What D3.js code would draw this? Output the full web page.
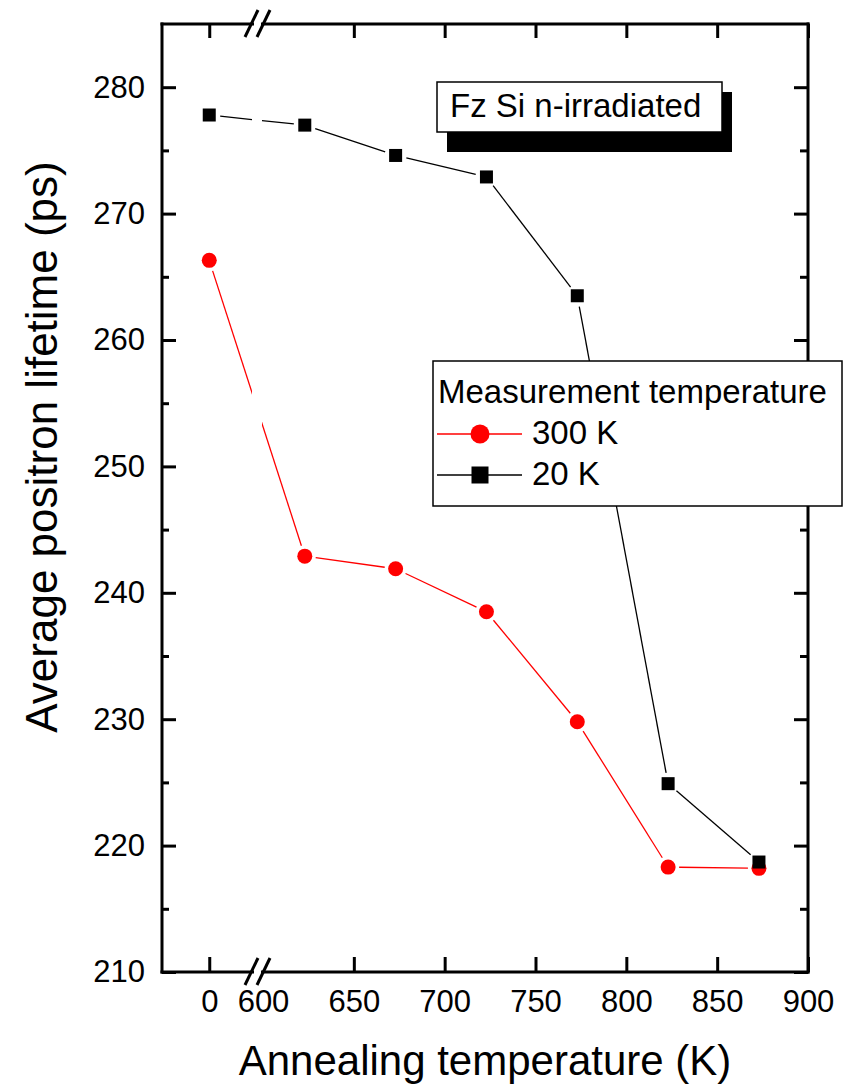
<!DOCTYPE html>
<html>
<head>
<meta charset="utf-8">
<script src="https://cdn.jsdelivr.net/npm/d3@7"></script>
<style>
  body { margin: 0; background: #fff; }
  svg { display: block; font-family: "Liberation Sans", Arial, sans-serif; }
  .axis text { font-size: 31px; fill: #000; }
  .axis line { stroke: #000; stroke-width: 3; }
</style>
</head>
<body>
<svg width="867" height="1087"></svg>
<script>
// Annealing temperatures (K); 0 = as-irradiated, shown left of the axis break
const annealTemps = [0, 623, 673, 723, 773, 823, 873];

// Average positron lifetime (ps)
const tau300K = [266.3, 242.9, 241.9, 238.5, 229.8, 218.3, 218.2];
const tau20K = [277.8, 277.0, 274.6, 272.9, 263.5, 224.9, 218.7];

// Tick values
const xTicksRight = [600, 650, 700, 750, 800, 850, 900];
const xTicksLeft = [0];
const yTicksMajor = [210, 220, 230, 240, 250, 260, 270, 280];
const yTicksMinor = [215, 225, 235, 245, 255, 265, 275, 285];

const width = 867;
const height = 1087;

const plot = { left: 162, right: 808, top: 24, bottom: 972 };
const breakGap = [252, 262];

const svg = d3.select("svg");

// Broken x scale: small left segment for 0, linear segment 600-900
const xLeft = d3.scaleLinear()
    .domain([-26, 26])
    .range([plot.left, 256.5]);

const xRight = d3.scaleLinear()
    .domain([600, 900])
    .range([263, plot.right]);

const x = v => v < 300 ? xLeft(v) : xRight(v);

const y = d3.scaleLinear()
    .domain([210, 285])
    .range([plot.bottom, plot.top]);

// Clip that hides the data lines across the axis break
const defs = svg.append("defs");
const clip = defs.append("clipPath").attr("id", "breakClip");
clip.append("rect")
    .attr("x", 0).attr("y", 0)
    .attr("width", breakGap[0]).attr("height", height);
clip.append("rect")
    .attr("x", breakGap[1]).attr("y", 0)
    .attr("width", width - breakGap[1]).attr("height", height);

// Bottom axis (ticks inward)
function bottomAxis(scale, values) {
    return d3.axisBottom(scale)
        .tickValues(values)
        .tickSizeInner(-15)
        .tickSizeOuter(0)
        .tickPadding(18)
        .tickFormat(d3.format("d"));
}

const gxRight = svg.append("g")
    .attr("class", "axis")
    .attr("transform", `translate(0, ${plot.bottom})`)
    .call(bottomAxis(xRight, xTicksRight));
gxRight.select(".domain").remove();
// no tick mark at 600, it sits under the break symbol
gxRight.selectAll(".tick").filter(d => d === 600).select("line").remove();

const gxLeft = svg.append("g")
    .attr("class", "axis")
    .attr("transform", `translate(0, ${plot.bottom})`)
    .call(bottomAxis(xLeft, xTicksLeft));
gxLeft.select(".domain").remove();

// Top axis (mirror, no labels)
function topAxis(scale, values) {
    return d3.axisTop(scale)
        .tickValues(values)
        .tickSizeInner(-14)
        .tickSizeOuter(0)
        .tickFormat("");
}
svg.append("g")
    .attr("class", "axis")
    .attr("transform", `translate(0, ${plot.top})`)
    .call(topAxis(xRight, xTicksRight.filter(d => d !== 600)))
    .call(g => g.select(".domain").remove());
svg.append("g")
    .attr("class", "axis")
    .attr("transform", `translate(0, ${plot.top})`)
    .call(topAxis(xLeft, xTicksLeft))
    .call(g => g.select(".domain").remove());

// Left y axis
svg.append("g")
    .attr("class", "axis")
    .attr("transform", `translate(${plot.left}, 0)`)
    .call(d3.axisLeft(y).tickValues(yTicksMajor).tickSizeInner(-14).tickSizeOuter(0).tickPadding(17))
    .call(g => g.select(".domain").remove());
svg.append("g")
    .attr("class", "axis")
    .attr("transform", `translate(${plot.left}, 0)`)
    .call(d3.axisLeft(y).tickValues(yTicksMinor.filter(d => d < 285)).tickSizeInner(-7).tickSizeOuter(0).tickFormat(""))
    .call(g => g.select(".domain").remove());

// Right y axis (mirror)
svg.append("g")
    .attr("class", "axis")
    .attr("transform", `translate(${plot.right}, 0)`)
    .call(d3.axisRight(y).tickValues(yTicksMajor).tickSizeInner(-14).tickSizeOuter(0).tickFormat(""))
    .call(g => g.select(".domain").remove());
svg.append("g")
    .attr("class", "axis")
    .attr("transform", `translate(${plot.right}, 0)`)
    .call(d3.axisRight(y).tickValues(yTicksMinor.filter(d => d < 285)).tickSizeInner(-8).tickSizeOuter(0).tickFormat(""))
    .call(g => g.select(".domain").remove());

// Frame with the break on top and bottom
const frame = svg.append("g")
    .attr("stroke", "#000")
    .attr("stroke-width", 3)
    .attr("fill", "none");

frame.append("line")
    .attr("x1", plot.left).attr("x2", plot.left)
    .attr("y1", plot.top - 1.5).attr("y2", plot.bottom + 1.5);
frame.append("line")
    .attr("x1", plot.right).attr("x2", plot.right)
    .attr("y1", plot.top - 1.5).attr("y2", plot.bottom + 1.5);

[plot.top, plot.bottom].forEach(yy => {
    frame.append("line")
        .attr("x1", plot.left - 1.5).attr("x2", breakGap[0] + 2)
        .attr("y1", yy).attr("y2", yy);
    frame.append("line")
        .attr("x1", breakGap[1] - 1).attr("x2", plot.right + 1.5)
        .attr("y1", yy).attr("y2", yy);
    [0, 12].forEach(dx => {
        frame.append("line")
            .attr("x1", 245 + dx).attr("y1", yy + 13)
            .attr("x2", 258 + dx).attr("y2", yy - 14);
    });
});

// Data series
const series300 = annealTemps.map((t, i) => ({ t, v: tau300K[i] }));
const series20 = annealTemps.map((t, i) => ({ t, v: tau20K[i] }));

// Line segments that stop short of the markers
function drawSegments(data, color, gap) {
    const g = svg.append("g").attr("clip-path", "url(#breakClip)");
    d3.pairs(data).forEach(([a, b]) => {
        const x1 = x(a.t), y1 = y(a.v), x2 = x(b.t), y2 = y(b.v);
        const len = Math.hypot(x2 - x1, y2 - y1);
        const ux = (x2 - x1) / len, uy = (y2 - y1) / len;
        g.append("line")
            .attr("x1", x1 + ux * gap).attr("y1", y1 + uy * gap)
            .attr("x2", x2 - ux * gap).attr("y2", y2 - uy * gap)
            .attr("stroke", color)
            .attr("stroke-width", 1.3);
    });
}

drawSegments(series20, "#000", 11);
drawSegments(series300, "#ff0000", 11);

svg.append("g")
    .selectAll("circle")
    .data(series300)
    .enter()
    .append("circle")
    .attr("cx", d => x(d.t))
    .attr("cy", d => y(d.v))
    .attr("r", 7.5)
    .attr("fill", "#ff0000");

svg.append("g")
    .selectAll("rect")
    .data(series20)
    .enter()
    .append("rect")
    .attr("x", d => x(d.t) - 6.5)
    .attr("y", d => y(d.v) - 6.5)
    .attr("width", 13)
    .attr("height", 13)
    .attr("fill", "#000");

// Sample label with shadow
svg.append("rect")
    .attr("x", 447).attr("y", 92)
    .attr("width", 285).attr("height", 60)
    .attr("fill", "#000");
svg.append("rect")
    .attr("x", 437).attr("y", 82)
    .attr("width", 285).attr("height", 50)
    .attr("fill", "#fff")
    .attr("stroke", "#000")
    .attr("stroke-width", 1.5);
svg.append("text")
    .attr("x", 450)
    .attr("y", 117)
    .attr("font-size", 33)
    .text("Fz Si n-irradiated");

// Legend
const legend = svg.append("g");
legend.append("rect")
    .attr("x", 433).attr("y", 361)
    .attr("width", 409).attr("height", 145)
    .attr("fill", "#fff")
    .attr("stroke", "#000")
    .attr("stroke-width", 1.5);
legend.append("text")
    .attr("x", 438).attr("y", 403)
    .attr("font-size", 33)
    .text("Measurement temperature");

legend.append("line")
    .attr("x1", 437).attr("x2", 522)
    .attr("y1", 434).attr("y2", 434)
    .attr("stroke", "#ff0000").attr("stroke-width", 1.3);
legend.append("circle")
    .attr("cx", 480).attr("cy", 434).attr("r", 9.5)
    .attr("fill", "#ff0000");
legend.append("text")
    .attr("x", 532).attr("y", 444)
    .attr("font-size", 33)
    .text("300 K");

legend.append("line")
    .attr("x1", 437).attr("x2", 522)
    .attr("y1", 475).attr("y2", 475)
    .attr("stroke", "#000").attr("stroke-width", 1.3);
legend.append("rect")
    .attr("x", 480 - 8.5).attr("y", 475 - 8.5)
    .attr("width", 17).attr("height", 17)
    .attr("fill", "#000");
legend.append("text")
    .attr("x", 532).attr("y", 485)
    .attr("font-size", 33)
    .text("20 K");

// Axis labels
svg.append("text")
    .attr("x", (plot.left + plot.right) / 2)
    .attr("y", 1075)
    .attr("text-anchor", "middle")
    .attr("font-size", 42)
    .text("Annealing temperature (K)");

svg.append("text")
    .attr("transform", "rotate(-90)")
    .attr("x", -447)
    .attr("y", 57)
    .attr("text-anchor", "middle")
    .attr("font-size", 44)
    .text("Average positron lifetime (ps)");
</script>
</body>
</html>
